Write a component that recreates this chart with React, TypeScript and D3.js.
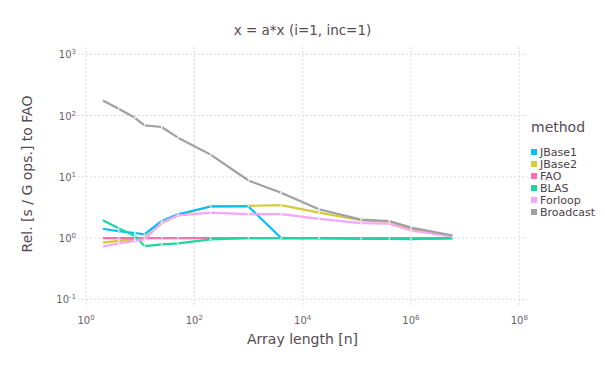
import React from "react";
import * as d3 from "d3";

const arrayLengths = [2, 4, 8, 12, 25, 50, 200, 1000, 4000, 20000, 120000, 400000, 1000000, 6000000];
const jbase1 = [1.42, 1.29, 1.21, 1.15, 1.9, 2.45, 3.28, 3.28, 1.0, 1.0, 0.98, 0.97, 0.96, 1.0];
const jbase2 = [0.84, 0.9, 0.95, 1.0, 1.75, 2.35, 3.3, 3.35, 3.45, 2.6, 1.95, 1.85, 1.4, 1.05];
const fao = [1, 1, 1, 1, 1, 1, 1, 1, 1, 1, 1, 1, 1, 1];
const blas = [1.97, 1.44, 1.08, 0.74, 0.79, 0.82, 0.95, 1.0, 1.0, 1.0, 0.98, 0.98, 0.97, 1.0];
const forloop = [0.72, 0.82, 0.9, 0.95, 1.8, 2.35, 2.6, 2.45, 2.45, 2.05, 1.75, 1.72, 1.33, 1.05];
const broadcast = [178, 129, 92, 69, 65, 43.5, 23, 8.7, 5.5, 2.95, 2.0, 1.9, 1.48, 1.1];

const methodNames = ["JBase1", "JBase2", "FAO", "BLAS", "Forloop", "Broadcast"];
const seriesValues = [jbase1, jbase2, fao, blas, forloop, broadcast];
const methodColors = ["#00BFFF", "#D4CA3A", "#FF6DAE", "#1DD6A2", "#F4A6FA", "#A0A0A0"];
const drawOrder = [1, 0, 2, 3, 4, 5];

const xTickExps = [0, 2, 4, 6, 8];
const yTickExps = [-1, 0, 1, 2, 3];

const font = "'DejaVu Sans', sans-serif";

export default function App() {
  const x = d3.scaleLog().domain([1, 1e8]).range([86, 519.3]);
  const y = d3.scaleLog().domain([0.1, 1000]).range([299.3, 54.3]);
  const plotLeft = 78, plotRight = 527, plotTop = 47, plotBottom = 307;

  const line = d3
    .line<[number, number]>()
    .x((d) => x(d[0]))
    .y((d) => y(d[1]));

  return (
    <svg
      width={605}
      height={378}
      style={{ position: "absolute", left: 0, top: 0, background: "#fff" }}
      fontFamily={font}
    >
      {xTickExps.map((e) => (
        <line
          key={"gx" + e}
          x1={x(Math.pow(10, e))}
          x2={x(Math.pow(10, e))}
          y1={plotTop}
          y2={plotBottom}
          stroke="#D0D0E0"
          strokeWidth={0.8}
          strokeDasharray="2 2"
        />
      ))}
      {yTickExps.map((e) => (
        <line
          key={"gy" + e}
          x1={plotLeft}
          x2={plotRight}
          y1={y(Math.pow(10, e))}
          y2={y(Math.pow(10, e))}
          stroke="#D0D0E0"
          strokeWidth={0.8}
          strokeDasharray="2 2"
        />
      ))}
      {xTickExps.map((e) => (
        <text
          key={"tx" + e}
          x={x(Math.pow(10, e))}
          y={324}
          textAnchor="middle"
          fontSize={10}
          fill="#6C606B"
        >
          10<tspan fontSize={7} dy={-4}>{e}</tspan>
        </text>
      ))}
      {yTickExps.map((e) => (
        <text
          key={"ty" + e}
          x={76}
          y={y(Math.pow(10, e)) + 4}
          textAnchor="end"
          fontSize={10}
          fill="#6C606B"
        >
          10<tspan fontSize={7} dy={-4}>{e}</tspan>
        </text>
      ))}
      {drawOrder.map((i) => {
        const vals = seriesValues[i];
        const pts: [number, number][] = arrayLengths.map((n, j) => [n, vals[j]]);
        return (
          <g key={"s" + i}>
            <path
              d={line(pts) || ""}
              fill="none"
              stroke={methodColors[i]}
              strokeWidth={2.2}
              strokeLinejoin="round"
            />
            {pts.map((p, j) => (
              <circle key={j} cx={x(p[0])} cy={y(p[1])} r={0.9} fill="#fff" />
            ))}
          </g>
        );
      })}
      <text x={302.5} y={35} textAnchor="middle" fontSize={13.5} fill="#564A55">
        x = a*x (i=1, inc=1)
      </text>
      <text x={302.5} y={344} textAnchor="middle" fontSize={14} fill="#564A55">
        Array length [n]
      </text>
      <text
        transform="translate(32,174) rotate(-90)"
        textAnchor="middle"
        fontSize={14}
        fill="#564A55"
      >
        Rel. [s / G ops.] to FAO
      </text>
      <text x={531} y={132} fontSize={14} fill="#564A55">
        method
      </text>
      {methodNames.map((m, i) => (
        <g key={"l" + i}>
          <rect x={531} y={149 + i * 12} width={6} height={6} fill={methodColors[i]} />
          <text x={540} y={156 + i * 12} fontSize={11} fill="#4C404B">
            {m}
          </text>
        </g>
      ))}
    </svg>
  );
}
